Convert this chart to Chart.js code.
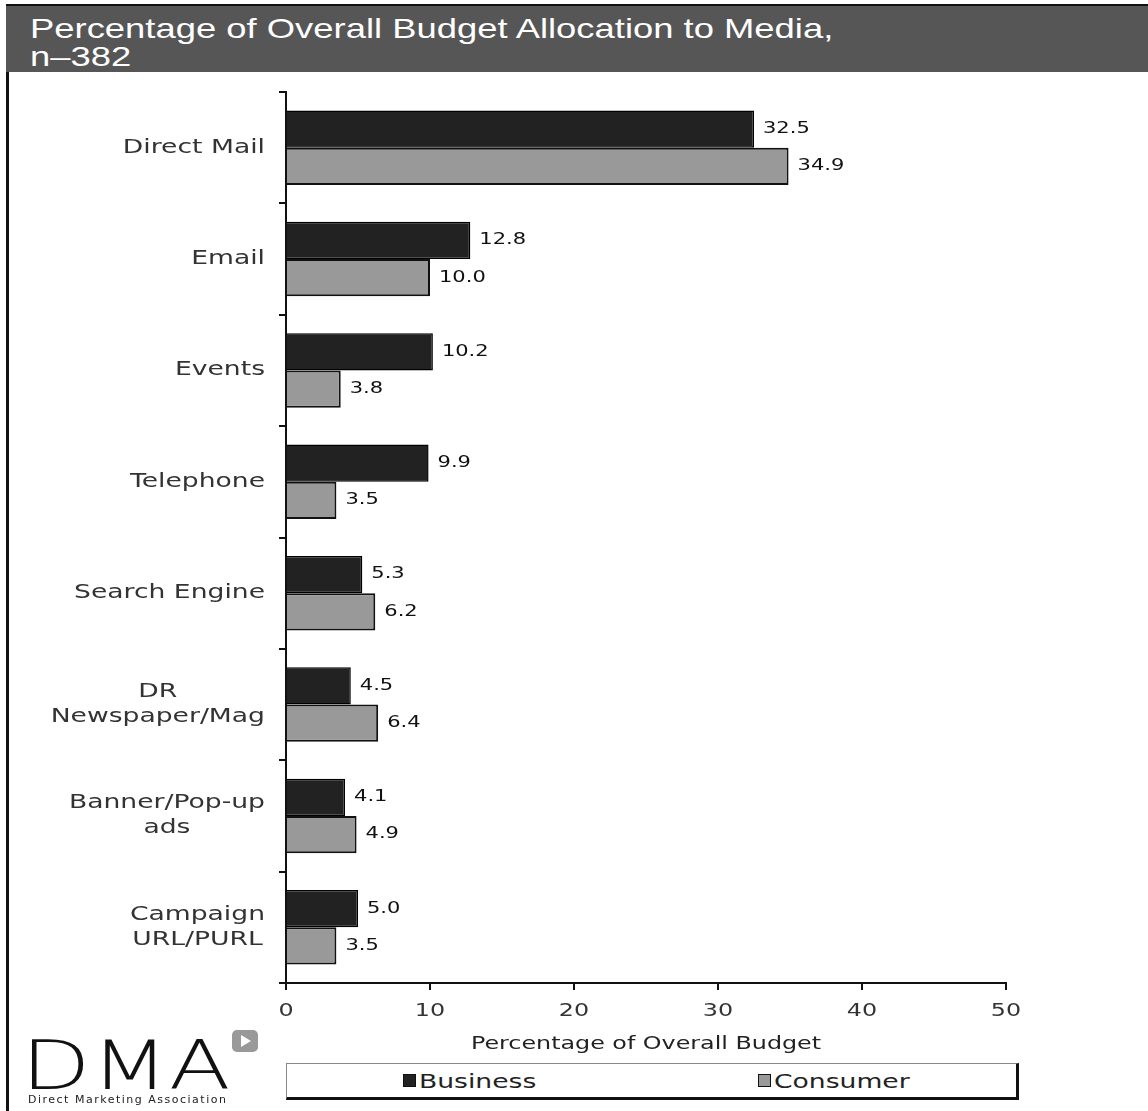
<!DOCTYPE html>
<html>
<head>
<meta charset="utf-8">
<script src="https://cdn.jsdelivr.net/npm/chart.js@4.4.1/dist/chart.umd.min.js"></script>
<style>
  body { margin: 0; background: #fff; width: 1148px; height: 1111px; position: relative; overflow: hidden; font-family: 'DejaVu Sans', sans-serif; }
  #frame { position: absolute; left: 6px; top: 4px; width: 3px; height: 1107px; background: #111; }
  #title { position: absolute; left: 6px; top: 4px; right: 0; height: 66px; background: #565656; border-top: 2px solid #111; }
  #title div { position: absolute; left: 24px; color: #fff; font: 28px 'Liberation Sans', sans-serif; line-height: 28px; transform: scaleX(1.3); transform-origin: 0 0; white-space: nowrap; }
  #chartBox { position: absolute; left: 10px; top: 80px; width: 1040px; height: 982px; }
  #legend { position: absolute; left: 286px; top: 1063px; width: 729px; height: 33px; border: 1px solid #888; border-right: 3px solid #111; border-bottom: 3px solid #111; display: flex; }
  .item { flex: 1; display: flex; justify-content: center; align-items: center; }
  .sw { width: 11px; height: 11px; border: 1px solid #111; margin-right: 3px; }
  .lt { display: inline-block; font: 19px 'DejaVu Sans', sans-serif; color: #222; transform: scaleX(1.4); transform-origin: 0 50%; }
  #dma { position: absolute; left: 21px; top: 1032px; font: 200 68px 'DejaVu Sans', sans-serif; line-height: 68px; color: #111; transform: scaleX(1.33); transform-origin: 0 0; }
  #dmaSub { position: absolute; left: 28px; top: 1094px; font: 11px 'DejaVu Sans', sans-serif; line-height: 11px; color: #222; letter-spacing: 1.5px; }
  #dmaIcon { position: absolute; left: 232px; top: 1030px; width: 26px; height: 22px; background: #999; border-radius: 5px; }
  #dmaIcon::after { content: ''; position: absolute; left: 9px; top: 5px; border-left: 10px solid #fff; border-top: 6px solid transparent; border-bottom: 6px solid transparent; }
</style>
</head>
<body>
<div id="frame"></div>
<div id="title">
  <div style="top:9px">Percentage of Overall Budget Allocation to Media,</div>
  <div style="top:37px">n–382</div>
</div>
<div id="chartBox"><canvas id="budgetChart"></canvas></div>
<div id="legend"></div>
<div id="dma">DMA</div>
<div id="dmaIcon"></div>
<div id="dmaSub">Direct Marketing Association</div>

<script>
// chart data
const categories = [['Direct Mail'], ['Email'], ['Events'], ['Telephone'], ['Search Engine'],
    ['DR', 'Newspaper/Mag'], ['Banner/Pop-up', 'ads'], ['Campaign', 'URL/PURL']];
const business = [32.5, 12.8, 10.2, 9.9, 5.3, 4.5, 4.1, 5.0];
const consumer = [34.9, 10.0, 3.8, 3.5, 6.2, 6.4, 4.9, 3.5];
const seriesNames = ['Business', 'Consumer'];
const seriesColors = ['#222222', '#999999'];
const xTicks = [0, 10, 20, 30, 40, 50];
const xTitle = 'Percentage of Overall Budget';

const SX = 1.4; // the source picture is stretched sideways

function wideText(ctx, text, x, y, align) {
    ctx.save();
    ctx.translate(x, y);
    ctx.scale(SX, 1);
    ctx.textAlign = align;
    ctx.fillText(text, 0, 0);
    ctx.restore();
}

// axis labels and bar values, drawn at the scale positions
const labelsPlugin = {
    id: 'labelsPlugin',
    afterDatasetsDraw(chart) {
        const ctx = chart.ctx;
        ctx.save();
        ctx.font = '15px "DejaVu Sans"';
        ctx.fillStyle = '#111';
        ctx.textBaseline = 'middle';
        chart.data.datasets.forEach((ds, i) => {
            chart.getDatasetMeta(i).data.forEach((bar, j) => {
                wideText(ctx, ds.data[j].toFixed(1), bar.x + 9, bar.y, 'left');
            });
        });
        ctx.restore();
    },
    afterDraw(chart) {
        const ctx = chart.ctx;
        const yScale = chart.scales.y;
        const xScale = chart.scales.x;
        ctx.save();
        ctx.textBaseline = 'middle';

        // category labels: block right-aligned, lines centred in it
        ctx.font = '19px "DejaVu Sans"';
        ctx.fillStyle = '#333';
        const right = yScale.right - 21;
        categories.forEach((lines, i) => {
            const cy = yScale.getPixelForTick(i);
            const w = Math.max(...lines.map(l => ctx.measureText(l).width)) * SX;
            lines.forEach((l, k) => {
                wideText(ctx, l, right - w / 2, cy + (k - (lines.length - 1) / 2) * 25, 'center');
            });
        });

        // x tick labels and title
        ctx.font = '17px "DejaVu Sans"';
        ctx.fillStyle = '#333';
        xScale.ticks.forEach(t => {
            wideText(ctx, String(t.value), xScale.getPixelForValue(t.value), xScale.top + 29, 'center');
        });
        ctx.fillStyle = '#222';
        wideText(ctx, xTitle, (xScale.left + xScale.right) / 2, xScale.bottom - 17, 'center');
        ctx.restore();
    }
};

const ctx = document.getElementById('budgetChart').getContext('2d');
const budgetChart = new Chart(ctx, {
    type: 'bar',
    data: {
        labels: categories,
        datasets: [{
            label: seriesNames[0],
            data: business,
            backgroundColor: seriesColors[0],
            borderColor: '#000',
            borderWidth: 1.5,
            categoryPercentage: 0.67,
            barPercentage: 1.0
        }, {
            label: seriesNames[1],
            data: consumer,
            backgroundColor: seriesColors[1],
            borderColor: '#111',
            borderWidth: 2,
            categoryPercentage: 0.67,
            barPercentage: 1.0
        }]
    },
    options: {
        indexAxis: 'y',
        responsive: true,
        maintainAspectRatio: false,
        animation: false,
        layout: { padding: { top: 12, right: 44, bottom: 0, left: 0 } },
        plugins: {
            legend: { display: false },
            tooltip: { enabled: false }
        },
        scales: {
            x: {
                min: xTicks[0],
                max: xTicks[xTicks.length - 1],
                afterFit(scale) { scale.height = 79; },
                ticks: { stepSize: xTicks[1] - xTicks[0], display: false },
                grid: { drawOnChartArea: false, drawTicks: true, tickLength: 7, color: '#111', lineWidth: 2 },
                border: { color: '#111', width: 2 }
            },
            y: {
                afterFit(scale) { scale.width = 276; },
                ticks: { display: false },
                grid: { drawOnChartArea: false, drawTicks: true, tickLength: 7, color: '#111', lineWidth: 2, offset: true },
                border: { color: '#111', width: 2 }
            }
        }
    },
    plugins: [labelsPlugin]
});

// legend under the chart
const legend = document.getElementById('legend');
seriesNames.forEach((name, i) => {
    const item = document.createElement('div');
    item.className = 'item';
    const sw = document.createElement('span');
    sw.className = 'sw';
    sw.style.background = seriesColors[i];
    const lt = document.createElement('span');
    lt.className = 'lt';
    lt.textContent = name;
    item.appendChild(sw);
    item.appendChild(lt);
    legend.appendChild(item);
    lt.style.marginRight = (lt.offsetWidth * (SX - 1)) + 'px';
});
</script>
</body>
</html>
